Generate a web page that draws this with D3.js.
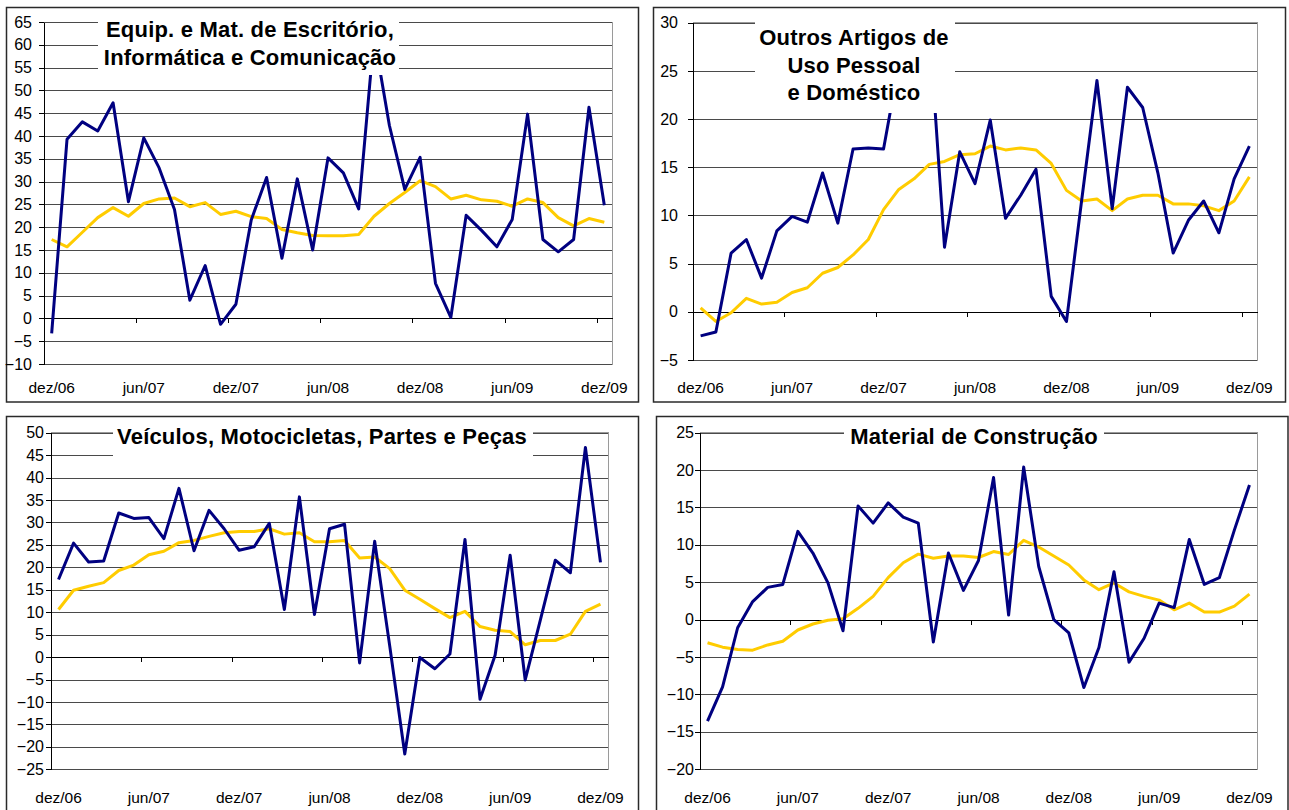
<!DOCTYPE html>
<html><head><meta charset="utf-8">
<script src="https://cdn.jsdelivr.net/npm/d3@7"></script>
<style>
body{margin:0;background:#fff}
svg{display:block}
text{font-family:"Liberation Sans",Arial,Helvetica,sans-serif}
</style></head>
<body><svg id="c" width="1289" height="810"></svg>
<script>
// ---------- DATA ----------
const categories = ["dez/06","jan/07","fev/07","mar/07","abr/07","mai/07","jun/07","jul/07","ago/07","set/07","out/07","nov/07",
  "dez/07","jan/08","fev/08","mar/08","abr/08","mai/08","jun/08","jul/08","ago/08","set/08","out/08","nov/08",
  "dez/08","jan/09","fev/09","mar/09","abr/09","mai/09","jun/09","jul/09","ago/09","set/09","out/09","nov/09","dez/09"];
const tickLabels = ["dez/06","jun/07","dez/07","jun/08","dez/08","jun/09","dez/09"];

const equipMonthly = [-3.3,39.3,43.1,41.1,47.3,25.6,39.6,33.0,23.9,4.0,11.6,-1.3,3.1,21.6,30.9,13.2,30.6,15.0,35.2,31.9,24.0,62.0,42.3,28.3,35.3,7.7,0.2,22.6,19.3,15.7,21.7,44.8,17.3,14.6,17.3,46.3,24.8];
const equipTrend   = [17.3,15.7,18.9,22.1,24.3,22.4,25.2,26.2,26.4,24.5,25.4,22.8,23.5,22.3,21.9,19.5,18.8,18.2,18.1,18.1,18.4,22.4,25.2,27.6,30.2,28.9,26.2,27.0,26.0,25.7,24.6,26.2,25.4,22.1,20.3,21.9,21.1];

const outrosMonthly = [-2.5,-2.1,6.1,7.5,3.5,8.4,9.9,9.3,14.4,9.2,16.9,17.0,16.9,25.6,27.0,29.7,6.7,16.6,13.3,19.9,9.7,12.1,14.8,1.6,-1.0,11.6,24.0,10.7,23.3,21.2,14.4,6.1,9.5,11.5,8.2,13.8,17.2];
const outrosTrend   = [0.4,-1.0,-0.1,1.4,0.8,1.0,2.0,2.5,4.0,4.6,5.9,7.5,10.6,12.7,13.8,15.3,15.6,16.3,16.4,17.2,16.8,17.0,16.8,15.4,12.6,11.5,11.7,10.5,11.7,12.1,12.1,11.2,11.2,11.0,10.5,11.5,14.0];

const veicMonthly = [17.3,25.4,21.2,21.4,32.1,30.9,31.1,26.4,37.6,23.7,32.7,28.6,23.8,24.6,29.8,10.6,35.7,9.5,28.6,29.6,-1.3,25.8,2.5,-21.6,-0.1,-2.6,0.7,26.2,-9.4,0.4,22.7,-5.1,8.2,21.6,18.8,46.7,21.1];
const veicTrend   = [10.6,14.9,15.8,16.6,19.3,20.5,22.8,23.6,25.5,26.0,26.9,27.7,28.0,28.0,28.6,27.4,27.7,25.7,25.7,26.0,22.1,22.3,19.7,14.9,12.9,10.8,8.8,10.2,6.8,6.0,5.7,2.75,3.7,3.7,5.1,10.2,11.8];

const matMonthly = [-13.6,-9.0,-1.1,2.4,4.3,4.7,11.8,8.9,4.9,-1.5,15.2,12.9,15.6,13.7,12.9,-3.0,8.9,3.9,7.9,19.0,0.6,20.4,7.1,0.0,-1.8,-9.1,-3.75,6.4,-5.7,-2.5,2.2,1.6,10.7,4.7,5.6,12.0,18.0];
const matTrend   = [-3.1,-3.7,-4.0,-4.1,-3.4,-2.9,-1.4,-0.6,-0.1,0.1,1.5,3.1,5.6,7.6,8.75,8.2,8.5,8.5,8.3,9.1,8.7,10.6,9.7,8.5,7.3,5.3,4.0,4.9,3.7,3.1,2.6,1.3,2.2,1.0,1.0,1.8,3.4];

const titleEquip  = ["Equip. e Mat. de Escritório,","Informática e Comunicação"];
const titleOutros = ["Outros Artigos de","Uso Pessoal","e Doméstico"];
const titleVeic   = ["Veículos, Motocicletas, Partes e Peças"];
const titleMat    = ["Material de Construção"];

// ---------- LAYOUT ----------
const panels = [
  {monthly:equipMonthly, trend:equipTrend, title:titleEquip, domain:[-10,65],
   frame:[6.5,7.5,632,394.5], left:44, right:612, top:22, bottom:364, labelGap:12, xLabelY:393,
   box:[98,12,301,63], titleX:250, titleY:[37,65]},
  {monthly:outrosMonthly, trend:outrosTrend, title:titleOutros, domain:[-5,30],
   frame:[653.5,7.5,632,394.5], left:693, right:1257, top:22.7, bottom:360, labelGap:15, xLabelY:393,
   box:[755,12,200,101], titleX:854, titleY:[45,72.5,100]},
  {monthly:veicMonthly, trend:veicTrend, title:titleVeic, domain:[-25,50],
   frame:[6.5,416.5,632,400], left:51, right:608, top:432.7, bottom:769.3, labelGap:7, xLabelY:803,
   box:[113,424,420,36], titleX:322, titleY:[444]},
  {monthly:matMonthly, trend:matTrend, title:titleMat, domain:[-20,25],
   frame:[656.5,416.5,631.5,400], left:700, right:1257, top:432.7, bottom:769, labelGap:6, xLabelY:803,
   box:[844,424,260,36], titleX:974, titleY:[444]}
];

const svg = d3.select("#c");
const BLUE = "#000080", YELLOW = "#FFCC00";

panels.forEach((p, pi) => {
  const g = svg.append("g");
  g.append("rect").attr("x",p.frame[0]).attr("y",p.frame[1]).attr("width",p.frame[2]).attr("height",p.frame[3])
    .attr("fill","#fff").attr("stroke","#2a2a2a").attr("stroke-width",1.5);

  const x = d3.scaleBand().domain(categories).range([p.left,p.right]).padding(0);
  const y = d3.scaleLinear().domain(p.domain).range([p.bottom,p.top]);
  const ticks = d3.range(p.domain[0], p.domain[1] + 0.001, 5);

  // plot area border
  g.append("rect").attr("x",p.left).attr("y",p.top).attr("width",p.right-p.left).attr("height",p.bottom-p.top)
    .attr("fill","none").attr("stroke","#9a9a9a").attr("shape-rendering","crispEdges");

  // gridlines
  const grid = g.append("g").attr("transform",`translate(${p.left},0)`)
    .call(d3.axisLeft(y).tickValues(ticks).tickSize(-(p.right-p.left)).tickFormat(""));
  grid.select(".domain").remove();
  grid.selectAll("line").attr("stroke","#4a4a4a").attr("shape-rendering","crispEdges");

  // y axis with outward ticks and labels
  const ya = g.append("g").attr("transform",`translate(${p.left},0)`)
    .call(d3.axisLeft(y).tickValues(ticks).tickSize(5).tickPadding(p.labelGap-5).tickSizeOuter(0).tickFormat(d3.format("d")));
  ya.select(".domain").attr("stroke","#000").attr("shape-rendering","crispEdges");
  ya.selectAll("line").attr("stroke","#000").attr("shape-rendering","crispEdges");
  ya.selectAll("text").attr("font-size",16).attr("fill","#000").attr("font-family","Liberation Sans, Arial");

  // x axis line at zero with tick marks between categories
  const xb = d3.scaleLinear().domain([0,categories.length]).range([p.left,p.right]);
  const xa = g.append("g").attr("transform",`translate(0,${y(0)})`)
    .call(d3.axisBottom(xb).tickValues([6,12,18,24,30,36]).tickSize(5).tickSizeOuter(0).tickFormat(""));
  xa.select(".domain").attr("stroke","#000").attr("shape-rendering","crispEdges");
  xa.selectAll("line").attr("stroke","#000").attr("shape-rendering","crispEdges");

  // x labels
  const xl = g.append("g").attr("transform",`translate(0,${p.xLabelY})`)
    .call(d3.axisBottom(x).tickValues(tickLabels).tickSize(0).tickPadding(0));
  xl.select(".domain").remove();
  xl.selectAll("text").attr("dy",0).attr("y",0).attr("font-size",15.5).attr("fill","#000").attr("font-family","Liberation Sans, Arial");

  // lines
  const clipId = "clip"+pi;
  g.append("clipPath").attr("id",clipId).append("rect")
    .attr("x",p.left).attr("y",p.top-2).attr("width",p.right-p.left).attr("height",p.bottom-p.top+4);
  const line = d3.line().x((d,i) => x(categories[i]) + x.bandwidth()/2).y(d => y(d));
  const lg = g.append("g").attr("clip-path",`url(#${clipId})`);
  lg.append("path").datum(p.trend).attr("d",line).attr("fill","none").attr("stroke",YELLOW)
    .attr("stroke-width",3).attr("stroke-linejoin","round");
  lg.append("path").datum(p.monthly).attr("d",line).attr("fill","none").attr("stroke",BLUE)
    .attr("stroke-width",3).attr("stroke-linejoin","round");

  // title box
  g.append("rect").attr("x",p.box[0]).attr("y",p.box[1]).attr("width",p.box[2]).attr("height",p.box[3]).attr("fill","#fff");
  g.selectAll("text.title").data(p.title).enter().append("text").attr("class","title")
    .attr("x",p.titleX).attr("y",(d,i) => p.titleY[i]).attr("text-anchor","middle")
    .attr("font-size",22).attr("letter-spacing",0.2).attr("font-weight","bold").attr("fill","#000").text(d => d);
});
</script>
</body></html>
